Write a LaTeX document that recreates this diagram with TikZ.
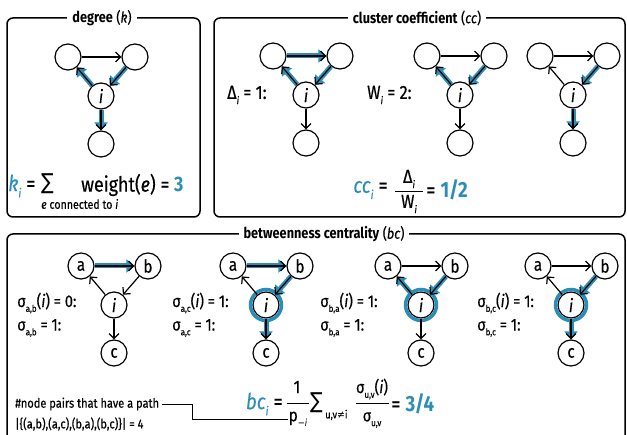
\documentclass[tikz,border=0pt]{standalone}
\usepackage{graphicx}
\usepackage{fontspec}
\setmainfont{Fira Sans}[FakeStretch=0.85, UprightFeatures={FakeBold=0.4}, ItalicFeatures={FakeBold=0.4}]
\newfontfamily\symf{DejaVu Sans}[FakeStretch=0.85]
\usetikzlibrary{arrows.meta}
\definecolor{hl}{RGB}{44,142,182}
\newcommand\fsz[1]{\fontsize{#1}{#1}\selectfont}
\newcommand\lo[1]{\raisebox{-0.28em}{\scalebox{0.55}{#1}}}
\newcommand\sig[1]{σ\lo{#1}}
\tikzset{
  panel/.style={line width=1.5pt, rounded corners=6pt},
  ptitle/.style={fill=white, inner xsep=5pt, inner ysep=1pt, font=\fsz{15}},
  vtx/.style={circle, draw, line width=1.2pt, minimum size=26pt, inner sep=0pt, fill=white, font=\fsz{18}},
  arr/.style={line width=1.2pt, -{Straight Barb[length=5pt,width=10pt]}},
  hlarr/.style={line width=5pt, draw=hl, -{Triangle[length=8pt,width=13pt]}},
  ring/.style={draw=hl, line width=3.5pt, circle, minimum size=31pt, inner sep=0pt},
  lbl/.style={font=\fsz{17}, anchor=west, inner sep=0pt},
  txt/.style={font=\fsz{17}, inner sep=0pt},
}
\newcommand\gnodes[5]{%
  \begin{scope}[shift={#2}]
    \node[vtx] (#1i) at (0,0) {\itshape i};
    \node[vtx] (#1a) at (-33,-39) {#3};
    \node[vtx] (#1b) at (34,-39) {#4};
    \node[vtx] (#1c) at (0,48) {#5};
  \end{scope}}
\newcommand\gedges[1]{%
  \draw[arr] (#1a) -- (#1b);
  \draw[arr] (#1i) -- (#1a);
  \draw[arr] (#1b) -- (#1i);
  \draw[arr] (#1i) -- (#1c);}
\begin{document}
\begin{tikzpicture}[x=1pt,y=-1pt]
\useasboundingbox (0,0) rectangle (627,435);
% panels
\draw[panel] (7,18) rectangle (200,217);
\node[ptitle] (tdeg) at (102,18) {\textbf{degree} (\textit{k})};
\draw[panel] (214,18) rectangle (625,217);
\node[ptitle] (tcc) at (417,18) {\textbf{cluster coefficient} (\textit{cc})};
\draw[panel] (7,234) rectangle (625,460);
\node[ptitle] (tbc) at (324,234) {\textbf{betweenness centrality} (\textit{bc})};

% degree
\gnodes{d}{(101,96)}{}{}{}
\draw[hlarr] (di) -- (da);
\draw[hlarr] (db) -- (di);
\draw[hlarr] (di) -- (dc);
\gedges{d}
\node[txt, anchor=west, font=\fsz{22}] (kf) at (8,186) {\textcolor{hl}{\textit{k}\lo{\textit{i}}} =};
\node[txt, anchor=west, font=\symf\fsz{22}] (ksum) at (41,184) {∑};
\node[txt, anchor=west, font=\fsz{12.5}] (ksub) at (41,204) {\textit{e} connected to \textit{i}};
\node[txt, anchor=west, font=\fsz{21}] (kw) at (81,185) {weight(\textit{e}) = \textbf{\textcolor{hl}{3}}};

% cluster coefficient
\gnodes{ca}{(306,95)}{}{}{}
\draw[hlarr] (caa) -- (cab);
\draw[hlarr] (cai) -- (caa);
\draw[hlarr] (cab) -- (cai);
\gedges{ca}
\node[lbl, font=\fsz{19}] (lda) at (227,95) {Δ\lo{\textit{i}} = 1:};

\gnodes{cb}{(460,95)}{}{}{}
\draw[hlarr] (cbi) -- (cba);
\draw[hlarr] (cbb) -- (cbi);
\gedges{cb}
\node[lbl, font=\fsz{19}] (lw) at (367,95) {W\lo{\textit{i}} = 2:};

\gnodes{cc}{(573,95)}{}{}{}
\draw[hlarr] (ccb) -- (cci);
\draw[hlarr] (cci) -- (ccc);
\gedges{cc}

\node[txt, anchor=east, font=\fsz{22}] (ccl) at (388,190) {\textcolor{hl}{\textit{cc}\lo{\textit{i}}} =};
\node[txt, font=\fsz{19}] (ccn) at (409,179) {Δ\lo{\textit{i}}};
\node[txt, font=\fsz{19}] (ccd) at (409,204) {W\lo{\textit{i}}};
\draw[line width=0.9pt] (395,191) -- (423,191);
\node[txt, anchor=west, font=\fsz{22}] (ccr) at (426,190) {= \textbf{\textcolor{hl}{1/2}}};

% betweenness centrality
\gnodes{ba}{(114,305)}{a}{b}{c}
\draw[hlarr] (baa) -- (bab);
\gedges{ba}
\node[lbl] (s1a) at (17,303) {\sig{a,b}(\textit{i}) = 0:};
\node[lbl] (s1b) at (17,328) {\sig{a,b} = 1:};

\gnodes{bb}{(266,305)}{a}{b}{c}
\node[ring] (rb) at (bbi) {};
\draw[hlarr] (bba) -- (bbb);
\draw[hlarr] (bbb) -- (bbi);
\draw[hlarr] (bbi) -- (bbc);
\gedges{bb}
\node[lbl] (s2a) at (172,303) {\sig{a,c}(\textit{i}) = 1:};
\node[lbl] (s2b) at (172,328) {\sig{a,c} = 1:};

\gnodes{bc}{(421,305)}{a}{b}{c}
\node[ring] (rc) at (bci) {};
\draw[hlarr] (bci) -- (bca);
\draw[hlarr] (bcb) -- (bci);
\gedges{bc}
\node[lbl] (s3a) at (320,303) {\sig{b,a}(\textit{i}) = 1:};
\node[lbl] (s3b) at (320,328) {\sig{b,a} = 1:};

\gnodes{bd}{(571,305)}{a}{b}{c}
\node[ring] (rd) at (bdi) {};
\draw[hlarr] (bdb) -- (bdi);
\draw[hlarr] (bdi) -- (bdc);
\gedges{bd}
\node[lbl] (s4a) at (477,303) {\sig{b,c}(\textit{i}) = 1:};
\node[lbl] (s4b) at (477,328) {\sig{b,c} = 1:};

% bc formula
\node[txt, anchor=east, font=\fsz{22}] (bcl) at (283,404) {\textcolor{hl}{\textit{bc}\lo{\textit{i}}} =};
\node[txt, font=\fsz{18}] (bcn) at (297,387) {1};
\draw[line width=0.9pt] (287,403) -- (309,403);
\node[txt, font=\fsz{18}] (bcd) at (298,419) {p\lo{\symf−\textit{i}}};
\node[txt, anchor=west, font=\symf\fsz{22}] (bcs) at (310,403) {∑};
\node[txt, anchor=west, font=\fsz{11}] (bcss) at (325,415) {u,v{\symf ≠}i};
\node[txt] (bcfn) at (372,389) {\sig{u,v}(\textit{i})};
\draw[line width=0.9pt] (356,403) -- (389,403);
\node[txt] (bcfd) at (372,420) {\sig{u,v}};
\node[txt, anchor=west, font=\fsz{22}] (bcr) at (391,404) {= \textbf{\textcolor{hl}{3/4}}};

\node[txt, anchor=west, font=\fsz{13}] (pairs) at (15,404) {\#node pairs that have a path};
\node[txt, anchor=west, font=\fsz{13}] (pset) at (15,424) {|\{(a,b),(a,c),(b,a),(b,c)\}| = 4};
\draw[line width=0.9pt] ([xshift=3pt]pairs.east) -- (192,0 |- pairs.east) |- ([xshift=-1pt]bcd.west);
\end{tikzpicture}
\end{document}
